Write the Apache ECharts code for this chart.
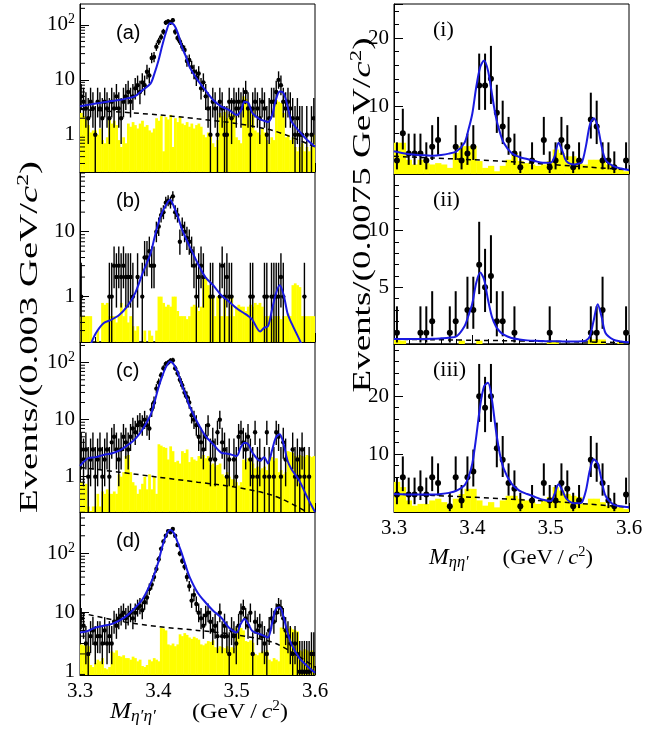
<!DOCTYPE html>
<html>
<head>
<meta charset="utf-8">
<script src="https://cdn.jsdelivr.net/npm/echarts@6/dist/echarts.min.js"></script>
<style>
html,body{margin:0;padding:0;background:#fff;}
#chart{width:665px;height:732px;}
</style>
</head>
<body>
<div id="chart"></div>
<script>
// ---- data: counts per bin (3.3-3.6 GeV), 100 bins of 0.003 on the left, 40 bins of 0.0075 on the right
var dataA = [5,4,3,2,4,3,1,4,3,2, 4,3,2,4,3,5,3,2,4,5, 6,4,5,7,8,6,9,8,14,12,
  25,26,40,50,60,75,110,115,110,122, 75,58,50,40,35,22,23,17,14,11, 13,7,9,5,3,1,4,3,1,4,
  3,1,1,4,2,4,3,4,3,4, 6,3,1,3,4,3,2,4,3,1, 2,4,4,6,10,8,4,3,4,3, 2,1,2,1,1,0,1,0,1,2];
var dataB = [1,0,0,0,0,0,0,0,0,0, 0,0,1,1,3,2,3,2,3,2, 2,2,1,0,2,0,1,4,4,5,
  3,3,10,12,18,20,28,30,28,35, 20,18,7,12,10,8,7,5,3,1, 2,3,2,0,0,1,1,0,0,1,
  3,1,2,1,1,0,0,0,0,0, 0,0,1,1,0,0,0,0,1,1, 0,1,1,1,1,2,1,0,0,0, 0,0,0,0,0,1,0,0,0,0];
var dataC = [3,2,3,1,2,3,1,2,3,1, 2,3,1,4,5,3,2,3,5,4, 3,5,7,6,8,9,8,10,8,7,
  15,20,35,45,60,80,95,100,108,110, 80,65,50,40,30,25,20,12,10,8, 5,4,3,5,8,2,4,2,6,10,
  4,3,1,2,0,2,1,5,6,4, 3,5,2,1,6,1,2,0,1,6, 1,0,1,6,5,1,4,2,0,0, 3,1,2,1,3,1,0,1,0,0];
var dataD = [8,6,3,2,4,5,3,4,4,3, 5,3,4,3,7,6,8,9,10,8, 9,10,8,10,12,13,11,15,18,25,
  30,40,55,80,120,160,200,240,230,260, 200,140,100,75,60,40,28,16,20,14, 10,8,6,9,10,7,5,6,4,10,
  4,6,4,2,5,4,3,6,10,12, 8,6,10,2,7,5,6,4,3,2, 5,8,7,10,13,12,8,5,4,3, 2,3,2,1,1,1,1,1,2,2];
var dataI = [2,6,3,3,3,2,4,5,0,0, 4,2,3,4,13,13,14,9,7,5, 3,1,0,2,0,5,1,2,5,4, 1,2,0,8,7,2,2,1,0,2];
var dataII = [1,0,0,0,1,1,2,0,0,1, 2,0,3,3,7,5,6,2,2,0, 1,0,0,0,0,0,1,0,0,0, 0,0,0,1,1,3,0,0,0,1];
var dataIII = [3,6,3,3,4,3,6,5,0,1, 6,2,6,7,20,18,20,11,9,5, 4,1,0,2,0,5,2,2,5,4, 1,2,0,9,8,5,2,1,0,3];

// ---- yellow histograms (same binning)
var yelA = [2.5,2.2,1.9,1.5,1.1,1.2,1.2,1.0,1.3,0.8, 0.7,0.9,1.9,1.6,1.8,1.5,0.8,0.6,0.9,0.7,
  1.6,1.4,1.7,1.5,1.3,1.6,1.8,1.4,1.5,1.2, 1.1,1.3,2.0,1.8,2.2,0.5,2.1,1.9,2.3,0.6,
  2.0,1.7,2.1,1.6,1.5,1.7,1.4,1.6,1.3,1.5, 1.6,1.4,1.0,0.9,1.1,1.0,0.7,0.6,0.8,2.5,
  2.2,2.6,2.0,2.4,2.3,2.5,0.9,0.8,0.7,5.0, 4.5,3.0,2.8,3.2,1.2,1.1,1.0,1.3,1.1,0.8,
  0.7,0.9,0.8,4.3,4.0,3.8,2.5,0.9,1.0,0.8, 0.9,0.6,0.5,0.6,0.7,0.5,0.6,0.5,0.6,1.0];
var yelB = [0.5,0.5,0.5,0.5,0.5,0,0,0.3,0,0.8, 0.75,0.8,0.5,0.5,0.5,0.4,0.5,0.8,0.5,0.75,
  0.4,0.5,0.35,0.3,0.35,0,0,0.3,0,0.3, 0.25,0,0.3,1,1,0.8,0.7,0.75,0.7,1,
  1,0.6,0.5,0.5,0.5,0.45,0.5,0.7,0.75,0.7, 0.6,0.7,2,2,1.5,1,1,0.5,1,0.5,
  0.5,1,0.5,0.5,1,0.5,0.7,0.75,0.7,0.7, 0.6,0.7,0.75,0.7,0.8,0.75,0.8,0.7,0.5,0.5,
  0.5,0.45,0.5,0.5,0.5,0.45,0.5,0.5,0.55,0.5, 1.5,1.6,1.5,1.4,0.5,0.5,0.5,0.5,0.5,0.5];
var yelC = [0.8,0.7,0.75,0.3,0.25,0.3,0.3,0.5,0.3,0.55, 0.5,0.6,0.5,0.5,0.55,0.5,1.1,1.0,1.2,2.3,
  2.4,1.2,0.8,0.7,0.5,0.6,0.75,1.0,0.6,1.1, 0.6,1.0,0.5,3.7,3.5,3.3,3.2,2.0,3.4,2.8,
  1.8,1.9,1.7,2.8,2.6,3.0,1.8,2.2,2.0,1.9, 2.3,2.2,2.4,2.1,2.3,1.6,1.7,1.5,1.6,1.7,
  1.1,1.0,1.2,1.0,0.9,0.9,0.8,0.7,0.8,2.0, 1.8,2.1,1.9,1.7,1.4,1.5,1.3,1.4,1.5,1.3,
  2.0,2.2,1.9,2.1,1.2,1.3,1.1,1.2,2.8,2.7, 2.6,2.3,2.2,2.4,2.3,2.2,2.4,2.3,2.2,2.3];
var yelD = [2.9,2.8,3.0,2.7,1.3,1.2,1.4,1.6,1.5,1.7, 1.15,1.1,1.2,2.2,2.1,2.3,1.85,1.8,1.9,1.7,
  1.7,1.6,1.8,1.7,1.5,1.6,1.25,1.2,1.3,1.6, 1.5,1.7,1.6,1.5,5.6,5.4,5.0,2.9,2.8,3.0,
  2.7,2.9,4.3,4.0,4.5,4.2,3.8,3.6,3.9,3.7, 3.5,2.9,2.8,3.0,3.3,3.2,3.4,2.6,2.5,2.7,
  2.6,2.5,2.7,2.4,2.6,2.5,5.6,5.3,5.5,5.0, 3.3,3.2,3.4,3.1,2.0,1.9,2.1,2.2,2.1,2.3,
  1.6,1.5,1.7,1.6,1.5,5.6,5.4,5.5,5.3,5.6, 5.2,5.0,4.8,2.3,2.2,2.4,2.3,2.2,2.3,2.1];
var yelI = [4.6,4.6,2.1,1.4,2.1,1.6,1.4,1.6,1.4,0.9, 3.1,4.1,4.1,4.1,1.9,0.9,1.2,0.4,1.2,2.1,
  3.1,1.9,1.6,1.4,1.2,1.4,1.9,3.6,3.1,2.6, 2.6,2.1,1.4,2.1,2.1,2.1,1.4,0.7,0.7,0.4];
var yelII = [0.5,0.3,0,0,0,0,0,0,0,0, 0,0.3,0,0,0.3,0,0,0,0,0,
  0,0,0,0,0,0,0.3,0.3,0,0, 0,0,0,0.4,0.4,0.4,0,0,0.2,0];
var yelIII = [5.2,4.3,2.0,1.1,1.4,1.4,2.0,2.3,1.7,1.1, 2.3,3.1,4.0,4.0,2.0,1.1,1.7,0.8,2.0,2.8,
  2.8,2.3,2.0,1.7,1.4,2.0,2.6,4.3,3.7,3.1, 2.8,2.6,1.4,2.3,2.3,1.7,1.1,0.8,0.8,0.5];

// ---- fit curves (blue), sampled at fitMass
var fitMass = [3.30,3.31,3.32,3.33,3.34,3.35,3.36,3.37,3.38,3.39,3.395,3.40,3.405,3.41,3.415,3.42,3.425,3.43,3.435,3.44,
  3.45,3.46,3.47,3.48,3.49,3.50,3.505,3.51,3.515,3.52,3.53,3.535,3.54,3.545,3.55,3.555,3.56,3.565,3.57,3.58,3.59,3.60];
var fitA = [3.3,3.5,3.7,3.9,4.1,4.3,4.6,5.0,6.5,8.5,13,22,42,75,108,100,70,40,27,17,
  10,6.5,4.3,3.3,2.85,2.3,2.65,4.0,3.8,2.5,1.9,1.8,1.7,2.2,4.3,6.1,5.7,3.3,1.75,1.15,0.8,0.61];
var fitB = [0.1,0.15,0.27,0.39,0.44,0.52,0.7,1.1,2.3,4.6,8,13.5,20,26,31,24,17,11,8,5.9,
  3.3,2.0,1.5,1.06,0.84,0.66,0.6,0.55,0.5,0.44,0.29,0.33,0.35,0.62,1.1,1.5,1.06,0.55,0.39,0.22,0.12,0.08];
var fitC = [1.55,2.1,2.2,2.4,2.55,2.85,3.5,4.5,6.8,12,20,36,58,85,105,92,66,41,27,17,
  8.9,5.2,3.7,2.65,2.5,2.3,3.25,3.95,3.7,2.65,1.9,2.2,1.7,2.85,4.85,5.55,3.7,1.9,1.35,0.85,0.44,0.24];
var fitD = [4.6,4.9,5.6,6.0,6.4,7.3,8.9,12,17,31,45,72,130,205,250,220,150,100,62,40,
  22,15,10.8,8.3,5.6,4.6,6.4,7.8,6.4,4.9,4.3,4.05,3.8,6.4,11.5,12.3,8.3,4.6,2.9,1.7,1.25,0.96];
var fitI = [3.35,3.1,2.9,2.8,2.75,2.7,2.8,3.0,3.35,4.6,6.5,8.9,12.8,15.7,16.7,15.2,11.8,8.4,6.2,4.6,
  3.1,2.5,2.2,1.9,1.65,1.65,2.6,4.6,3.35,1.9,1.4,1.5,1.75,4.1,7.2,8.2,7.0,4.1,2.1,1.15,0.8,0.58];
var fitII = [0.44,0.44,0.45,0.45,0.45,0.46,0.5,0.55,0.68,1.56,2.5,3.6,5.4,6.3,5.7,3.9,2.4,1.56,1.1,0.82,
  0.53,0.4,0.32,0.28,0.26,0.24,0.24,0.24,0.23,0.23,0.23,0.23,0.24,0.3,0.68,2.1,3.5,2.4,0.97,0.38,0.22,0.15];
var fitIII = [3.1,3.05,3.0,3.0,3.0,3.0,3.1,3.3,3.7,4.6,6.0,8.4,13,18.3,21.7,22.3,19.4,14.2,10.1,7.5,
  4.9,3.7,3.1,2.6,2.1,1.9,3.1,4.8,3.7,2.3,1.5,1.5,1.7,3.7,7.2,9.1,8.4,5.5,2.8,1.3,1.0,0.8];

// ---- background (dashed), sampled at bkgMass
var bkgMass = [3.30,3.35,3.40,3.45,3.50,3.55,3.60];
var bkgA = [2.9,2.6,2.3,1.95,1.6,1.15,0.6];
var bkgC = [1.45,1.2,0.98,0.8,0.65,0.45,0.2];
var bkgD = [10,7.2,5.8,5.0,4.2,3.0,1.2];
var bkgI = [2.6,2.35,2.1,1.8,1.4,1.0,0.6];
var bkgII = [0.42,0.38,0.33,0.28,0.22,0.17,0.12];
var bkgIII = [3.1,2.85,2.55,2.2,1.85,1.35,0.8];

var xTicks = ['3.3','3.4','3.5','3.6'];

// ---- panel layout
var panels = [
  {tag:'(a)', data:dataA, yel:yelA, fit:fitA, bkg:bkgA, bin:0.003, log:true, yMin:0.21, yMax:240, left:80, top:4, height:168, xl:false, sans:true},
  {tag:'(b)', data:dataB, yel:yelB, fit:fitB, bkg:null, bin:0.003, log:true, yMin:0.2, yMax:83, left:80, top:172, height:170, xl:false, sans:true},
  {tag:'(c)', data:dataC, yel:yelC, fit:fitC, bkg:bkgC, bin:0.003, log:true, yMin:0.24, yMax:230, left:80, top:342, height:170, xl:false, sans:true},
  {tag:'(d)', data:dataD, yel:yelD, fit:fitD, bkg:bkgD, bin:0.003, log:true, yMin:0.88, yMax:505, left:80, top:512, height:163, xl:true, sans:true},
  {tag:'(i)', data:dataI, yel:yelI, fit:fitI, bkg:bkgI, bin:0.0075, log:false, yMin:0, yMax:25, step:10, left:394, top:4, height:170, xl:false},
  {tag:'(ii)', data:dataII, yel:yelII, fit:fitII, bkg:bkgII, bin:0.0075, log:false, yMin:0, yMax:15, step:5, left:394, top:174, height:170, xl:false},
  {tag:'(iii)', data:dataIII, yel:yelIII, fit:fitIII, bkg:bkgIII, bin:0.0075, log:false, yMin:0, yMax:29, step:10, left:394, top:344, height:168, xl:true}
];

var serifName = '"Liberation Serif","DejaVu Serif",serif';
var serif = serifName;
var sans = '"Liberation Sans","DejaVu Sans",sans-serif';
var grids = [], xAxes = [], yAxes = [], series = [], graphics = [];

function errLo(n){ return n - Math.sqrt(n - 0.25); }
function errHi(n){ return n + 1 + Math.sqrt(n + 0.75); }

// width of a run of text pieces, used to stretch the axis titles to the reference length
var measureCtx = document.createElement('canvas').getContext('2d');
function piecesWidth(pieces){
  var w = 0;
  pieces.forEach(function(pc){ measureCtx.font = pc[1]; w += measureCtx.measureText(pc[0]).width; });
  return w;
}

panels.forEach(function(p, k){
  var W = 235;
  grids.push({left:p.left, top:p.top, width:W, height:p.height, show:true, borderColor:'#000', borderWidth:1,
    backgroundColor:'transparent', containLabel:false, outerBoundsMode:'none'});
  xAxes.push({type:'value', gridIndex:k, min:3.3, max:3.6, interval:0.1,
    axisLine:{show:true, onZero:false, lineStyle:{color:'#000', width:1}},
    axisTick:{show:true, inside:true, length:9, lineStyle:{color:'#000'}},
    minorTick:{show:true, splitNumber:5, length:5, lineStyle:{color:'#000'}},
    splitLine:{show:false},
    axisLabel:{show:p.xl, color:'#000', fontFamily:serif, fontSize:21, margin:6,
      formatter:function(v){ return xTicks[Math.round((v - 3.3) * 10)] || ''; }}
  });
  var ya = {gridIndex:k, min:p.yMin, max:p.yMax,
    axisLine:{show:true, onZero:false, lineStyle:{color:'#000', width:1}},
    axisTick:{show:true, inside:true, length:9, lineStyle:{color:'#000'}},
    splitLine:{show:false},
    axisLabel:{color:'#000', fontFamily:serif, fontSize:21, margin:5, showMinLabel:false, showMaxLabel:false}};
  if (p.log) {
    ya.type = 'log'; ya.logBase = 10;
    ya.axisLabel.formatter = function(v){
      var l = Math.log10(v), r = Math.round(l);
      if (Math.abs(l - r) > 0.01) return '';
      if (r === 0) return '1';
      if (r === 1) return '10';
      return '10{s|' + r + '}';
    };
    ya.axisLabel.rich = {s:{fontFamily:serif, fontSize:14, color:'#000', padding:[0,0,11,0]}};
  } else {
    ya.type = 'value'; ya.interval = p.step;
    ya.minorTick = {show:true, splitNumber:5, length:5, lineStyle:{color:'#000'}};
  }
  yAxes.push(ya);

  // yellow histogram
  var hist = [];
  p.yel.forEach(function(v, i){ if (v > 0) hist.push([3.3 + p.bin * (i + 0.5), v]); });
  series.push({type:'custom', xAxisIndex:k, yAxisIndex:k, data:hist, clip:true, silent:true, z:1,
    encode:{x:0, y:1},
    renderItem:function(params, api){
      var x = api.value(0), y = api.value(1);
      var a = api.coord([x - p.bin / 2, y]);
      var b = api.coord([x + p.bin / 2, p.yMin]);
      return {type:'rect', shape:{x:a[0], y:a[1], width:b[0] - a[0] + 0.4, height:b[1] - a[1]},
        style:{fill:'#ffff00'}};
    }});

  // minor ticks on log axes (2..9 per decade)
  if (p.log) {
    var mt = [];
    for (var d = -1; d <= 2; d++) for (var m = 2; m <= 9; m++) {
      var v = m * Math.pow(10, d);
      if (v > p.yMin && v < p.yMax) mt.push([3.3, v]);
    }
    series.push({type:'custom', xAxisIndex:k, yAxisIndex:k, data:mt, silent:true, z:6, encode:{x:0, y:1},
      renderItem:function(params, api){
        var c = api.coord([api.value(0), api.value(1)]);
        return {type:'line', shape:{x1:c[0], y1:c[1], x2:c[0] + 5, y2:c[1]}, style:{stroke:'#000', lineWidth:1}};
      }});
  }

  // data points with error bars
  var pts = [];
  p.data.forEach(function(n, i){
    if (n > 0) pts.push([3.3 + p.bin * (i + 0.5), n, Math.max(errLo(n), p.yMin), errHi(n)]);
  });
  var r = p.log ? 2.2 : 3, lw = p.log ? 1.4 : 2;
  series.push({type:'custom', xAxisIndex:k, yAxisIndex:k, data:pts, clip:true, silent:true, z:2,
    encode:{x:0, y:1},
    renderItem:function(params, api){
      var c = api.coord([api.value(0), api.value(1)]);
      var lo = api.coord([api.value(0), api.value(2)]);
      var hi = api.coord([api.value(0), api.value(3)]);
      return {type:'group', children:[
        {type:'line', shape:{x1:c[0], y1:lo[1], x2:c[0], y2:hi[1]}, style:{stroke:'#000', lineWidth:lw}},
        {type:'circle', shape:{cx:c[0], cy:c[1], r:r}, style:{fill:'#000'}}
      ]};
    }});

  // background
  if (p.bkg) {
    series.push({type:'line', xAxisIndex:k, yAxisIndex:k, z:3, showSymbol:false, smooth:0.3, silent:true,
      data:bkgMass.map(function(x, i){ return [x, p.bkg[i]]; }),
      lineStyle:{color:'#000', width:1.5, type:[5,4]}});
  }
  // fit
  series.push({type:'line', xAxisIndex:k, yAxisIndex:k, z:4, showSymbol:false, smooth:0.3, silent:true,
    data:fitMass.map(function(x, i){ return [x, p.fit[i]]; }),
    lineStyle:{color:'#1a1ae0', width:2}});

  graphics.push({type:'text', x:p.left + (p.sans ? 36 : 39), y:p.top + (p.log ? 29 : 26),
    style:{text:p.tag, fontFamily:p.sans ? sans : serif, fontSize:p.sans ? 20 : 22, fill:'#000',
      align:'left', verticalAlign:'middle'}});
});

// ---- y titles (stretched to the reference length)
var yFs = 26;
var titleRich = {
  c:{fontFamily:serif, fontStyle:'italic', fontSize:yFs, fill:'#000'},
  s:{fontFamily:serif, fontSize:16, fill:'#000', padding:[0,0,13,0]}
};
function yTitle(binText, cx, cy, len){
  var main = yFs + 'px ' + serifName;
  var w = piecesWidth([['Events/(' + binText + ' GeV/', main], ['c', 'italic ' + main],
    ['2', '16px ' + serifName], [')', main]]);
  graphics.push({type:'text', x:cx, y:cy, rotation:Math.PI / 2, scaleX:len / w,
    style:{text:'Events/(' + binText + ' GeV/{c|c}{s|2})', fontFamily:serif, fontSize:yFs,
      fill:'#000', align:'center', verticalAlign:'middle', rich:titleRich}});
}
yTitle('0.003', 30, 337, 352);
yTitle('0.0075', 363, 215, 355);

// ---- x titles
var xRich = {
  m:{fontFamily:serif, fontStyle:'italic', fontSize:23, fill:'#000'},
  b:{fontFamily:serif, fontStyle:'italic', fontSize:16, fill:'#000', padding:[10,0,0,0]},
  c:{fontFamily:serif, fontStyle:'italic', fontSize:22, fill:'#000'},
  s:{fontFamily:serif, fontSize:14, fill:'#000', padding:[0,0,11,0]}
};
function xTitle(sub, cx, cy, len){
  var w = piecesWidth([['M', 'italic 23px ' + serifName], [sub, 'italic 16px ' + serifName],
    ['\u2003\u2002(GeV\u2009/\u2009', '22px ' + serifName], ['c', 'italic 22px ' + serifName],
    ['2', '14px ' + serifName], [')', '22px ' + serifName]]);
  graphics.push({type:'text', x:cx, y:cy, scaleX:len / w,
    style:{text:'{m|M}{b|' + sub + '}\u2003\u2002(GeV\u2009/\u2009{c|c}{s|2})', fontFamily:serif, fontSize:22,
      fill:'#000', align:'center', verticalAlign:'middle', rich:xRich}});
}
xTitle('η′η′', 199, 712, 178);
xTitle('ηη′', 511, 558, 164);

var chart = echarts.init(document.getElementById('chart'));
chart.setOption({
  animation:false,
  backgroundColor:'#fff',
  grid:grids,
  xAxis:xAxes,
  yAxis:yAxes,
  series:series,
  graphic:graphics
});
</script>
</body>
</html>
